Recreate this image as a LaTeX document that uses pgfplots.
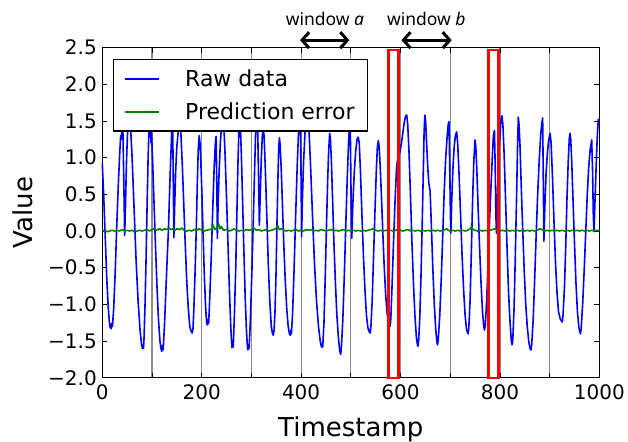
\documentclass[border=0pt]{standalone}
\usepackage{pgfplots}
\pgfplotsset{compat=1.18}
\usepackage{fontspec}
\setmainfont{DejaVu Sans}
\newfontfamily\winfont{Noto Sans}
\usetikzlibrary{arrows.meta}

\definecolor{rawblue}{rgb}{0,0,1}
\definecolor{errgreen}{rgb}{0,0.5,0}

\pgfplotstableread{
x y
0 0.92
3 0.45
6 -0.10
9 -0.65
12 -1.05
14 -1.22
15.5 -1.30
17.5 -1.33
19 -1.26
20.5 -1.30
23 -1.05
26 -0.55
29 0.05
32 0.60
35 1.05
37 1.30
38.5 1.25
40 1.48
41 1.52
43 0.80
45 -0.06
46.5 0.30
48.5 0.90
50.5 1.30
53 1.50
55 1.52
57 1.40
60 1.00
64 0.30
68 -0.40
72 -0.95
76 -1.35
79 -1.55
81 -1.60
82 -1.55
83 -1.60
84 -1.45
86 -1.00
88 -0.40
90 0.30
92 0.95
93.5 1.30
95 1.50
96.5 1.45
98 1.20
99 1.35
101 1.00
104 0.40
107 -0.20
110 -0.75
113 -1.20
116 -1.50
118 -1.60
119.5 -1.64
121 -1.56
122.5 -1.62
125 -1.30
128 -0.80
131 -0.30
133 0.00
135 0.45
137.5 0.95
140 1.40
141.5 1.50
142.5 0.90
144 -0.09
145.5 0.30
147.5 0.80
150 1.15
152 1.30
154 1.45
156 1.50
158 1.35
161 0.90
164 0.35
167 -0.20
170 -0.70
173 -1.05
176 -1.30
178.5 -1.36
181 -1.39
182.5 -1.33
184 -1.10
186.5 -0.60
189 0.00
191 0.60
193 1.10
195 1.30
196.5 1.20
198 1.00
200.5 0.50
203 -0.10
205.5 -0.65
208 -1.05
210 -1.25
211.5 -1.28
213 -1.20
214 -1.26
216 -0.95
219 -0.40
222 0.25
225 0.85
227.5 1.20
229 1.29
230.5 0.60
231.5 -0.10
233 0.35
235 0.80
237.5 1.20
240 1.45
242.5 1.55
244.5 1.45
247 1.05
250 0.45
253 -0.20
256 -0.85
258.5 -1.30
260 -1.50
261 -1.59
262.5 -1.52
263.5 -1.58
266 -1.10
268.5 -0.50
271 0.30
273 0.95
275 1.40
276.5 1.50
278 1.40
280 1.00
282.5 0.35
285 -0.30
287.5 -0.90
290 -1.35
292 -1.58
293 -1.62
294.5 -1.55
295.5 -1.60
298 -1.20
301 -0.55
304 0.20
306.5 0.85
308.5 1.35
310.5 1.55
312.5 1.45
314.5 0.70
316 0.08
318 0.55
320 1.00
322 1.30
324 1.38
325.5 1.30
328 0.85
331 0.20
334 -0.45
337 -0.95
340 -1.30
342.5 -1.40
344 -1.42
345.5 -1.36
347.5 -1.10
349.5 -0.60
351.5 0.10
353.5 0.75
355 1.15
356.5 1.27
358 1.15
360 0.85
362.5 0.35
365 -0.15
368 -0.65
371 -1.05
374 -1.30
376.5 -1.40
378 -1.42
379.5 -1.35
380.5 -1.40
383 -1.10
386 -0.50
389 0.20
392 0.85
394.5 1.30
396.5 1.50
398.5 1.50
400 0.70
401 -0.08
402.5 0.40
405 0.95
408 1.35
411 1.52
413.5 1.50
416 1.35
419 0.90
423 0.20
427 -0.45
431 -0.95
435 -1.30
438.5 -1.50
441 -1.58
442.5 -1.54
443.5 -1.58
446 -1.25
448.5 -0.65
451 0.05
453.5 0.70
455.5 1.10
457.5 1.33
459 1.25
461 0.95
463.5 0.40
466 -0.15
469 -0.70
472 -1.15
475 -1.45
477.5 -1.62
479.5 -1.68
481 -1.60
484 -1.20
487 -0.60
490 0.10
493 0.75
495.5 1.20
497.5 1.45
499 1.40
500.5 0.50
502 -0.10
504 0.35
507 0.80
510 1.10
512.5 1.25
515 1.28
517 1.20
519.5 0.80
522.5 0.20
525.5 -0.35
528.5 -0.80
531.5 -1.15
534.5 -1.32
537 -1.37
539 -1.39
540.5 -1.30
543 -0.95
546 -0.30
549 0.35
551.5 0.85
553.5 1.15
555.4 1.23
557 1.15
559 0.90
561.5 0.50
564 0.05
567 -0.45
570 -0.85
573 -1.12
576 -1.25
578 -1.30
579 -1.30
580.5 -1.20
583 -0.75
586 -0.15
589 0.40
592 0.85
594 0.97
596 1.00
599 1.08
602 1.20
605 1.35
608 1.50
610.5 1.57
612.5 1.58
614.5 1.45
617 1.10
620 0.50
623 -0.15
626 -0.70
629 -1.15
632 -1.45
634 -1.55
635 -1.57
636.5 -1.50
639 -1.15
641.5 -0.55
644 0.20
646 0.85
647.5 1.35
649 1.58
650.5 1.50
652.5 1.20
655 0.85
657 0.65
659.5 0.55
662 0.10
665 -0.50
668 -1.00
671 -1.35
673.5 -1.52
674.5 -1.55
676 -1.48
679 -1.15
682 -0.65
685 -0.05
688 0.55
691 1.00
694 1.30
696 1.45
697.6 1.49
699 0.90
700.5 0.20
701.4 -0.03
703 0.40
705.5 0.85
708 1.15
710.5 1.30
713 1.35
715 1.20
718 0.75
721 0.20
724 -0.35
727 -0.80
730 -1.15
733 -1.35
736 -1.40
737.5 -1.32
740 -0.95
742.5 -0.30
745 0.40
747.5 0.95
750 1.24
751.5 1.15
753.5 0.85
756 0.35
759 -0.20
762 -0.70
765 -1.10
767.5 -1.30
769 -1.35
770.5 -1.28
773 -1.00
776 -0.50
779 0.10
782 0.60
785 1.05
787 1.30
789 1.37
790.5 0.90
792 0.20
793 -0.03
795 0.45
797.5 0.95
800 1.30
802 1.50
804 1.57
806 1.45
808.5 1.05
811.5 0.40
814.5 -0.25
817.5 -0.85
820.5 -1.25
823 -1.50
824.5 -1.55
826 -1.48
828.5 -1.05
831 -0.35
833.5 0.45
835.5 1.15
837 1.55
838.5 1.45
840.5 1.15
843 0.60
846 0.00
849 -0.55
852 -1.00
855 -1.30
858 -1.50
860.5 -1.60
862.5 -1.62
864 -1.55
867 -1.20
870 -0.65
873 -0.05
876 0.50
879 0.95
882 1.30
884 1.45
886 1.54
887.3 0.70
888.5 -0.14
890.5 0.35
893 0.80
896 1.10
898.5 1.25
901 1.33
903 1.20
906 0.70
909 0.10
912 -0.45
915 -0.85
918 -1.10
921.5 -1.20
925.5 -1.24
927 -1.15
930 -0.75
932.5 -0.20
935 0.45
937.5 0.95
939.5 1.25
941 1.33
942.5 1.25
944.5 0.95
947 0.45
950 -0.15
953 -0.70
956 -1.10
959 -1.32
962 -1.40
963.5 -1.33
966.5 -1.00
969.5 -0.55
972.5 -0.05
975.5 0.45
978.5 0.85
981.5 1.10
984.7 1.24
986.5 0.80
988 0.20
989.4 -0.01
991 0.35
993.5 0.85
996 1.30
998 1.52
1000 1.50
}\rawdata

\pgfplotstableread{
x y
0 0.00
5 0.01
10 -0.01
15 0.00
20 0.01
25 0.00
30 0.01
35 0.00
40 0.02
45 0.00
50 0.01
55 0.00
60 0.01
65 -0.01
70 0.00
75 0.01
80 0.00
85 0.01
90 0.02
95 0.00
100 0.02
104 0.03
108 0.01
112 0.02
116 0.03
120 0.01
125 0.03
130 0.02
134 0.04
138 0.02
142 0.03
146 0.01
150 0.03
155 0.02
160 0.04
165 0.01
170 0.00
175 0.01
180 0.00
185 0.02
190 0.01
195 0.03
200 0.01
205 0.00
210 0.01
215 0.02
220 0.02
223 0.08
226 0.02
230 0.04
234 0.10
237 0.03
240 0.06
244 0.01
250 0.02
255 0.00
260 0.01
265 0.03
270 0.01
275 0.00
280 0.01
285 0.00
290 0.02
295 0.01
300 0.02
305 0.04
310 0.01
315 0.02
320 0.00
325 0.01
330 0.02
335 0.00
340 0.01
345 0.02
350 0.04
353 0.07
356 0.02
360 0.03
365 0.01
370 0.00
375 0.01
380 0.00
385 0.01
390 0.02
395 0.00
400 0.01
405 0.00
410 0.02
415 0.01
420 0.02
425 0.00
430 0.01
435 0.00
440 0.02
445 0.01
450 0.00
455 0.01
460 0.02
465 0.00
470 0.01
475 0.00
480 0.01
485 0.02
490 0.00
495 0.01
500 0.00
505 0.01
510 0.00
515 0.01
520 0.00
525 0.01
530 0.00
535 0.01
540 0.02
545 0.03
550 0.01
555 0.00
560 0.01
565 0.00
570 0.01
575 0.00
580 0.01
585 0.00
590 0.01
595 0.02
600 0.01
605 0.00
610 0.01
615 0.02
620 0.00
625 0.01
630 0.00
635 0.01
640 0.00
645 0.01
650 0.00
655 0.01
660 0.00
665 0.01
670 0.00
675 0.01
680 0.00
685 0.01
690 0.02
693 0.03
696 0.01
700 0.00
705 0.01
710 0.00
715 0.01
720 0.00
725 0.01
730 0.00
735 0.01
740 0.03
743 0.06
746 0.02
750 0.01
755 0.00
760 0.01
765 0.00
770 0.01
775 0.00
780 0.01
785 0.02
790 0.03
795 0.01
800 0.00
805 0.01
810 0.00
815 0.01
820 0.00
825 0.01
830 0.00
835 0.01
840 0.00
845 0.01
850 0.00
855 0.01
860 0.00
865 0.01
870 0.00
875 0.01
880 0.03
885 0.02
890 0.00
895 0.01
900 0.00
905 0.01
910 0.00
915 0.01
920 0.00
925 0.01
930 0.00
935 0.01
940 0.00
945 0.01
950 0.00
955 0.01
960 0.00
965 0.01
970 0.00
975 0.01
980 0.00
985 0.01
990 0.00
995 0.01
1000 0.00
}\errdata

\begin{document}
\begin{tikzpicture}
\begin{axis}[
  at={(0,0)}, anchor=south west,
  scale only axis, width=497bp, height=330.3bp,
  xmin=0, xmax=1000, ymin=-2, ymax=2.5,
  clip=false,
  xtick={0,100,...,1000},
  xticklabels={0,,200,,400,,600,,800,,1000},
  ytick={-2,-1.5,...,2.5},
  yticklabels={−2.0,−1.5,−1.0,−0.5,0.0,0.5,1.0,1.5,2.0,2.5},
  tick align=inside, major tick length=5bp,
  tick style={black, line width=0.8bp},
  xmajorgrids,
  grid style={draw=black!45, line width=1.2bp},
  axis line style={line width=1.2bp},
  ticklabel style={font=\fontsize{20bp}{23bp}\selectfont},
  xticklabel style={yshift=-3bp},
  yticklabel style={xshift=-2bp},
  xlabel={Timestamp}, ylabel={Value},
  label style={font=\fontsize{26bp}{30bp}\selectfont},
  xlabel style={at={(rel axis cs:0.5,-0.178)}, anchor=base},
  ylabel style={at={(rel axis cs:-0.141,0.5)}, anchor=base},
  legend style={at={(rel axis cs:0.0215,0.965)}, anchor=north west,
    draw=black, line width=1.2bp, fill=white,
    inner xsep=11bp, inner ysep=8bp, column sep=23bp, row sep=11bp,
    font=\fontsize{22bp}{25bp}\selectfont},
  legend cell align=left,
  legend image code/.code={\draw[#1,line width=1.6bp] (0bp,0bp) -- (34bp,0bp);},
]
\addplot[rawblue, line width=1.6bp, line join=round] table[x=x,y=y] {\rawdata};
\addlegendentry{Raw data}
\addplot[errgreen, line width=1.6bp, line join=round] table[x=x,y=y] {\errdata};
\addlegendentry{Prediction error}

% anomaly windows
\draw[red, line width=2.5bp] (axis cs:575.5,-2) rectangle (axis cs:595.6,2.465);
\draw[red, line width=2.5bp] (axis cs:776.7,-2) rectangle (axis cs:796.8,2.465);

% sliding window markers
\draw[line width=3bp, {Straight Barb[length=7bp,width=16bp]}-{Straight Barb[length=7bp,width=16bp]}]
  (axis cs:398,2.60) -- (axis cs:497,2.60);
\draw[line width=3bp, {Straight Barb[length=7bp,width=16bp]}-{Straight Barb[length=7bp,width=16bp]}]
  (axis cs:602,2.60) -- (axis cs:703,2.60);
\node[anchor=base, inner sep=0pt, font=\winfont\fontsize{17.5bp}{20bp}\selectfont]
  at (axis cs:448,2.793) {window \textit{a}};
\node[anchor=base, inner sep=0pt, font=\winfont\fontsize{17.5bp}{20bp}\selectfont]
  at (axis cs:652,2.793) {window \textit{b}};
\end{axis}
\pgfresetboundingbox
\path (-102.3bp,-64.2bp) rectangle (525.7bp,377.8bp);
\end{tikzpicture}
\end{document}
